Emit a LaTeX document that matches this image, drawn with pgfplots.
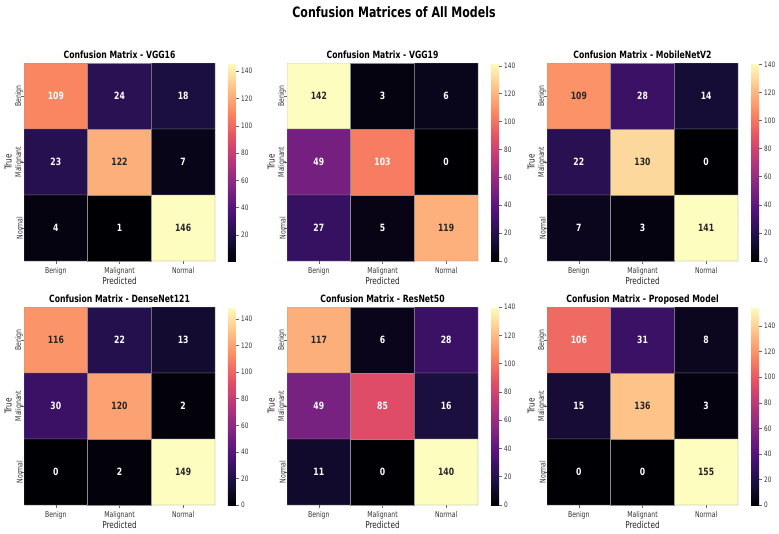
\documentclass[border=0pt]{standalone}
\usepackage{fontspec}
\setmainfont{DejaVu Sans}[FakeStretch=0.77]
\usepackage{pgfplots}
\pgfplotsset{compat=1.18}
\pgfplotsset{
  colormap={magma}{rgb255=(0,0,4) rgb255=(28,16,68) rgb255=(79,18,123) rgb255=(129,37,129) rgb255=(181,54,122) rgb255=(229,80,100) rgb255=(251,135,97) rgb255=(254,194,135) rgb255=(252,253,191)},
  colorbar shift/.style={xshift=13pt},
  cm/.style={
    scale only axis, width=191pt, height=198pt, anchor=north west,
    xmin=-0.5, xmax=2.5, ymin=-0.5, ymax=2.5, y dir=reverse,
    colormap name=magma,
    xtick={0,1,2}, ytick={0,1,2},
    xticklabels={Benign,Malignant,Normal},
    yticklabels={Benign,Malignant,Normal},
    tick pos=left, tick align=outside, major tick length=3pt,
    tick style={black!60, line width=0.5pt},
    axis line style={draw=none},
    xticklabel style={font=\fontsize{8}{9}\selectfont, text=black!80},
    yticklabel style={font=\fontsize{8}{9}\selectfont, text=black!80, rotate=90, anchor=south, inner sep=1.5pt},
    yticklabel shift=-3.5pt,
    xlabel=Predicted, ylabel=True,
    label style={font=\fontsize{9.5}{10}\selectfont, text=black!85},
    xlabel style={at={(axis description cs:0.5,-0.1)}, anchor=center},
    ylabel style={at={(axis description cs:-0.082,0.5)}, anchor=center},
    title style={font=\bfseries\fontsize{10}{11}\selectfont, at={(axis description cs:0.5,1)}, anchor=base, yshift=-1.5pt},
    colorbar,
    colorbar style={
      at={(parent axis.north east)}, anchor=north west,
      scale only axis, width=8pt, height=198pt, y dir=normal,
      title={}, xlabel={}, ylabel={},
      axis line style={draw=none},
      ytick={0,20,...,140}, yticklabel={\pgfmathprintnumber{\tick}},
      ytick pos=right, yticklabel pos=right, yticklabel shift=0pt,
      tick align=outside, major tick length=3pt,
      tick style={black!60, line width=0.5pt},
      yticklabel style={font=\fontsize{7.5}{8}\selectfont, text=black!80, rotate=0, anchor=west, inner sep=2pt},
      /pgf/number format/assume math mode=true,
    },
  },
  wl/.style={draw=none, nodes near coords, point meta=explicit symbolic,
    nodes near coords style={anchor=center, text=white, font=\bfseries\fontsize{10}{11}\selectfont}},
  dl/.style={draw=none, nodes near coords, point meta=explicit symbolic,
    nodes near coords style={anchor=center, text=black!85, font=\bfseries\fontsize{10}{11}\selectfont}},
  mp/.style={matrix plot*, mesh/cols=3, point meta=explicit, draw=black!45, line width=0.4pt},
}
\begin{document}
\begin{tikzpicture}
\useasboundingbox (0,0) rectangle (779pt,-533pt);
\node[font=\bfseries\fontsize{14.3}{16}\selectfont] at (394pt,-12pt) {Confusion Matrices of All Models};

% VGG16
\begin{axis}[cm, at={(24pt,-63pt)}, point meta min=1, point meta max=146, title={Confusion Matrix - VGG16}]
\addplot[mp] coordinates {(0,0)[109] (1,0)[24] (2,0)[18] (0,1)[23] (1,1)[122] (2,1)[7] (0,2)[4] (1,2)[1] (2,2)[146]};
\addplot[wl] coordinates {(0,0)[109] (1,0)[24] (2,0)[18] (0,1)[23] (2,1)[7] (0,2)[4] (1,2)[1]};
\addplot[dl] coordinates {(1,1)[122] (2,2)[146]};
\end{axis}

% VGG19
\begin{axis}[cm, at={(287pt,-63pt)}, point meta min=0, point meta max=142, title={Confusion Matrix - VGG19}]
\addplot[mp] coordinates {(0,0)[142] (1,0)[3] (2,0)[6] (0,1)[49] (1,1)[103] (2,1)[0] (0,2)[27] (1,2)[5] (2,2)[119]};
\addplot[wl] coordinates {(1,0)[3] (2,0)[6] (0,1)[49] (1,1)[103] (2,1)[0] (0,2)[27] (1,2)[5]};
\addplot[dl] coordinates {(0,0)[142] (2,2)[119]};
\end{axis}

% MobileNetV2
\begin{axis}[cm, at={(547pt,-63pt)}, point meta min=0, point meta max=141, title={Confusion Matrix - MobileNetV2}]
\addplot[mp] coordinates {(0,0)[109] (1,0)[28] (2,0)[14] (0,1)[22] (1,1)[130] (2,1)[0] (0,2)[7] (1,2)[3] (2,2)[141]};
\addplot[wl] coordinates {(1,0)[28] (2,0)[14] (0,1)[22] (2,1)[0] (0,2)[7] (1,2)[3]};
\addplot[dl] coordinates {(0,0)[109] (1,1)[130] (2,2)[141]};
\end{axis}

% DenseNet121
\begin{axis}[cm, at={(24pt,-307pt)}, point meta min=0, point meta max=149, title={Confusion Matrix - DenseNet121}]
\addplot[mp] coordinates {(0,0)[116] (1,0)[22] (2,0)[13] (0,1)[30] (1,1)[120] (2,1)[2] (0,2)[0] (1,2)[2] (2,2)[149]};
\addplot[wl] coordinates {(1,0)[22] (2,0)[13] (0,1)[30] (2,1)[2] (0,2)[0] (1,2)[2]};
\addplot[dl] coordinates {(0,0)[116] (1,1)[120] (2,2)[149]};
\end{axis}

% ResNet50
\begin{axis}[cm, at={(287pt,-307pt)}, point meta min=0, point meta max=140, title={Confusion Matrix - ResNet50}]
\addplot[mp] coordinates {(0,0)[117] (1,0)[6] (2,0)[28] (0,1)[49] (1,1)[85] (2,1)[16] (0,2)[11] (1,2)[0] (2,2)[140]};
\addplot[wl] coordinates {(1,0)[6] (2,0)[28] (0,1)[49] (1,1)[85] (2,1)[16] (0,2)[11] (1,2)[0]};
\addplot[dl] coordinates {(0,0)[117] (2,2)[140]};
\end{axis}

% Proposed Model
\begin{axis}[cm, at={(547pt,-307pt)}, point meta min=0, point meta max=155, title={Confusion Matrix - Proposed Model}]
\addplot[mp] coordinates {(0,0)[106] (1,0)[31] (2,0)[8] (0,1)[15] (1,1)[136] (2,1)[3] (0,2)[0] (1,2)[0] (2,2)[155]};
\addplot[wl] coordinates {(0,0)[106] (1,0)[31] (2,0)[8] (0,1)[15] (2,1)[3] (0,2)[0] (1,2)[0]};
\addplot[dl] coordinates {(1,1)[136] (2,2)[155]};
\end{axis}
\end{tikzpicture}
\end{document}
